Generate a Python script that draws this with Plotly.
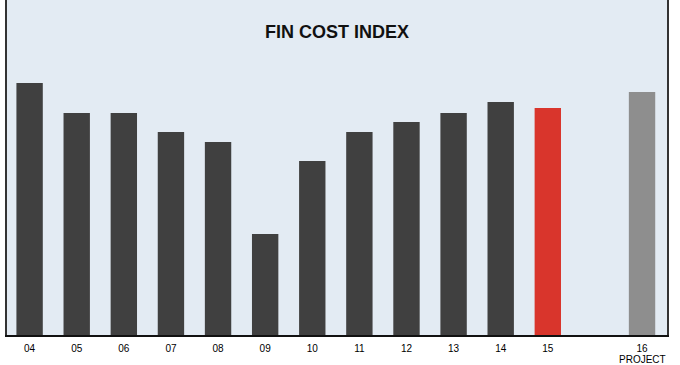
import plotly.graph_objects as go

# Data
years = ["04", "05", "06", "07", "08", "09", "10", "11", "12", "13", "14", "15", "16"]
positions = [0, 1, 2, 3, 4, 5, 6, 7, 8, 9, 10, 11, 13]
index_values = [252, 222, 222, 203, 193, 101, 174, 203, 213, 222, 233, 227, 243]
bar_colors = ["#404040"] * 11 + ["#D9352C", "#8E8E8E"]
projection_label = "PROJECT"

fig = go.Figure()
fig.add_trace(go.Bar(
    x=positions,
    y=index_values,
    marker=dict(color=bar_colors, line=dict(width=0)),
    width=0.56,
    hoverinfo="skip",
))

fig.add_annotation(
    x=positions[-1],
    xref="x",
    y=0,
    yref="paper",
    yanchor="top",
    yshift=-17,
    text=projection_label,
    showarrow=False,
    font=dict(family="Liberation Sans, Arial, sans-serif", size=10, color="#000000"),
)

fig.update_layout(
    width=680,
    height=365,
    margin=dict(l=7, r=13, t=0, b=30, autoexpand=False),
    paper_bgcolor="white",
    plot_bgcolor="#E3EBF3",
    showlegend=False,
    title=dict(
        text="<b>FIN COST INDEX</b>",
        x=0.4955,
        xanchor="center",
        y=1 - 32 / 365,
        yanchor="middle",
        font=dict(family="Liberation Sans, Arial, sans-serif", size=18, color="#111111"),
    ),
    font=dict(family="Liberation Sans, Arial, sans-serif"),
)

fig.update_xaxes(
    range=[-0.48, 13.53],
    tickmode="array",
    tickvals=positions,
    ticktext=years,
    tickfont=dict(size=10, color="#000000"),
    ticklabelstandoff=3,
    automargin=False,
    ticks="",
    showgrid=False,
    zeroline=False,
    showline=True,
    linecolor="#111111",
    linewidth=2,
    fixedrange=True,
)
fig.update_yaxes(
    range=[0, 335],
    showticklabels=False,
    automargin=False,
    ticks="",
    showgrid=False,
    zeroline=False,
    showline=True,
    mirror=True,
    linecolor="#333333",
    linewidth=1.5,
    fixedrange=True,
)

fig.write_html("out.html", config={"displayModeBar": False})
